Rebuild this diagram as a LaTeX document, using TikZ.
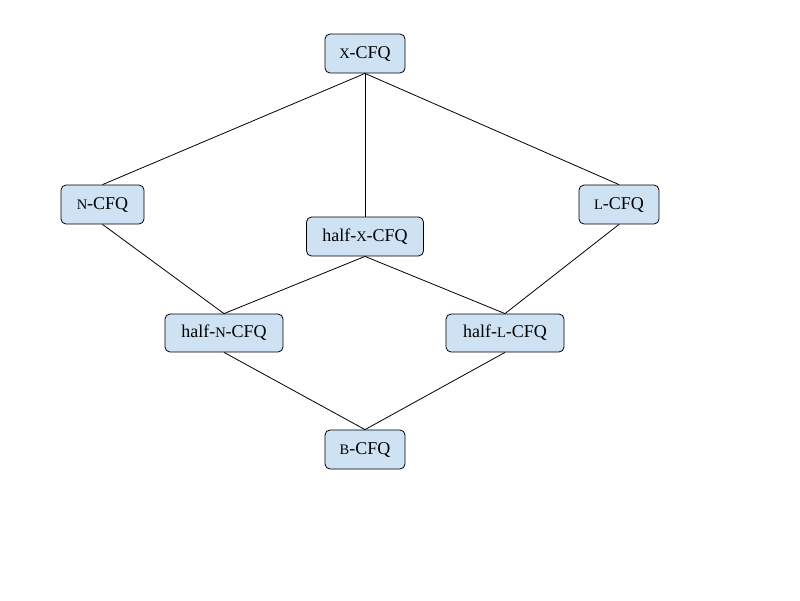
\documentclass[tikz,border=0pt]{standalone}
\usepackage{fontspec}
\setmainfont{Liberation Serif}
\definecolor{boxfill}{HTML}{CFE2F3}
\newcommand{\fsc}[1]{{\fontsize{14.5}{14.5}\selectfont #1}}
\begin{document}
\begin{tikzpicture}[x=1pt,y=-1pt,
  box/.style={draw=black, fill=boxfill, rounded corners=5pt, line width=0.8pt,
    minimum height=39pt, inner sep=0pt, font=\fontsize{18}{18}\selectfont},
  link/.style={draw=black, line width=0.8pt}]
\useasboundingbox (0,0) rectangle (800,600);
\node[box, minimum width=80pt] (x) at (365,53.5) {\fsc{X}-CFQ};
\node[box, minimum width=83pt] (n) at (102.5,204.5) {\fsc{N}-CFQ};
\node[box, minimum width=117pt] (hx) at (365,236.5) {half-\fsc{X}-CFQ};
\node[box, minimum width=80pt] (l) at (619,204.5) {\fsc{L}-CFQ};
\node[box, minimum width=118pt, minimum height=38pt] (hn) at (224,333) {half-\fsc{N}-CFQ};
\node[box, minimum width=118pt, minimum height=38pt] (hl) at (505,333) {half-\fsc{L}-CFQ};
\node[box, minimum width=80pt] (b) at (365,449.5) {\fsc{B}-CFQ};
\draw[link] (x.south) -- (n.north);
\draw[link] (x.south) -- (hx.north);
\draw[link] (x.south) -- (l.north);
\draw[link] (n.south) -- (hn.north);
\draw[link] (hx.south) -- (hn.north);
\draw[link] (hx.south) -- (hl.north);
\draw[link] (l.south) -- (hl.north);
\draw[link] (hn.south) -- (b.north);
\draw[link] (hl.south) -- (b.north);
\end{tikzpicture}
\end{document}
